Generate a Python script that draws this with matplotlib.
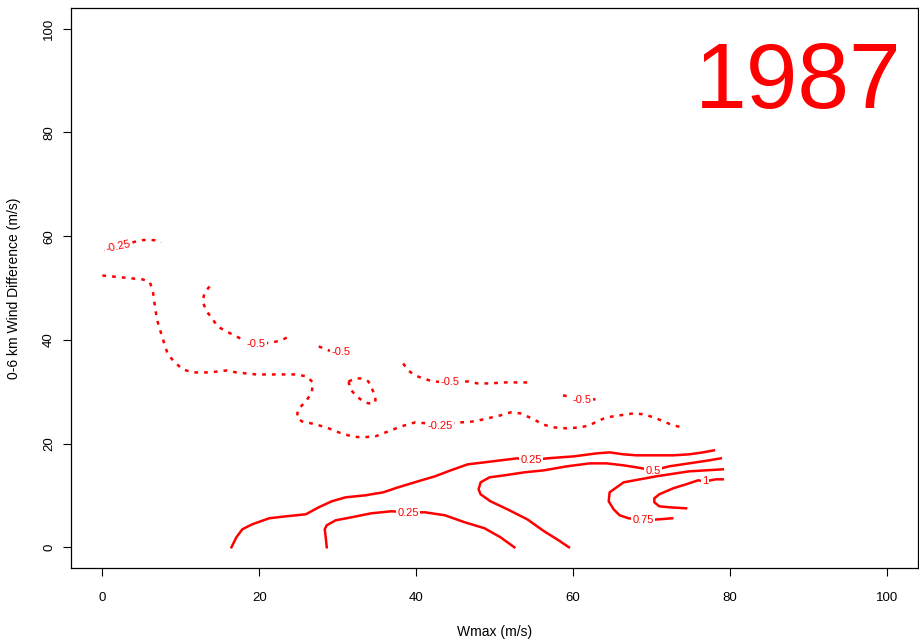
import matplotlib
matplotlib.use("Agg")
import matplotlib.pyplot as plt

RED = "#ff0000"

plt.rcParams.update({
    "font.family": ["Liberation Sans", "DejaVu Sans"],
    "axes.linewidth": 0.9,
})

# ---- contour lines (Wmax, wind difference) ----
# negative levels (dotted)
neg_a_x = [0.25, 2.0, 3.9, 4.8, 5.8, 6.7, 7.5]
neg_a_y = [57.2, 58.0, 58.8, 59.2, 59.3, 59.2, 58.8]

neg_b_x = [0.0, 2.66, 5.19, 6.08, 6.46, 6.71, 6.96, 7.34, 7.85, 8.35, 9.24, 10.25,
           11.52, 13.67, 15.82, 17.09, 19.62, 22.15, 24.68, 26.08, 26.84, 26.71,
           25.95, 24.94, 24.81, 25.44, 27.22, 28.86, 30.13, 31.77, 33.04, 34.81,
           36.46, 38.10, 39.87, 43.04, 45.70, 47.47, 49.11, 50.76, 52.03, 53.29,
           55.06, 56.08, 57.59, 59.24, 60.89, 62.15, 63.04, 64.30, 65.95, 67.72,
           69.11, 70.63, 71.52, 72.78, 73.92]
neg_b_y = [52.41, 52.02, 51.64, 51.06, 49.13, 46.44, 43.93, 42.00, 39.50, 37.19,
           35.65, 34.30, 33.72, 33.72, 34.10, 33.72, 33.33, 33.33, 33.33, 32.95,
           31.79, 29.87, 28.13, 26.59, 25.05, 24.28, 23.70, 22.93, 22.16, 21.39,
           21.19, 21.39, 22.35, 23.31, 24.08, 23.70, 24.08, 24.28, 24.86, 25.43,
           26.01, 25.82, 24.66, 23.70, 23.12, 22.93, 23.12, 23.51, 24.28, 25.05,
           25.43, 25.82, 25.63, 24.86, 24.28, 23.51, 23.12]

neg_c_x = [13.67, 13.04, 12.78, 13.29, 13.92, 14.68, 15.82, 17.09, 18.35, 19.62,
           21.65, 22.78, 23.54]
neg_c_y = [50.29, 49.13, 47.40, 45.47, 44.32, 42.58, 41.62, 40.66, 39.69, 39.11,
           39.50, 39.88, 40.46]

neg_d_x = [27.59, 28.86, 30.38, 32.03]
neg_d_y = [38.73, 37.96, 37.76, 37.76]

neg_e_x = [31.39, 32.28, 33.04, 33.92, 34.30, 34.81, 34.81, 33.92, 33.29, 32.41,
           31.65, 31.39]
neg_e_y = [31.98, 32.56, 32.56, 31.98, 30.83, 29.09, 27.94, 27.75, 28.13, 29.09,
           30.44, 31.98]

neg_f_x = [38.35, 38.99, 39.87, 40.89, 42.15, 44.30, 46.58, 47.85, 49.49, 51.27,
           52.91, 54.18]
neg_f_y = [35.45, 34.10, 33.14, 32.56, 31.98, 31.79, 31.98, 31.60, 31.60, 31.79,
           31.79, 31.79]

neg_g_x = [58.73, 59.49, 61.14, 63.04]
neg_g_y = [29.29, 29.09, 28.52, 28.52]

# positive levels (solid)
pos_025a_x = [16.46, 17.09, 17.85, 19.11, 21.27, 23.42, 25.95, 27.59, 29.24, 31.01,
              33.54, 35.82, 37.72, 40.25, 42.41, 44.43, 46.58, 48.73, 50.76, 52.91,
              54.68, 56.71, 60.13, 63.04, 64.68, 66.46, 68.10, 70.63, 72.78, 74.81,
              76.58, 77.97]
pos_025a_y = [0.0, 1.93, 3.47, 4.43, 5.59, 5.97, 6.36, 7.71, 8.86, 9.63, 10.02,
              10.60, 11.56, 12.72, 13.68, 14.84, 15.99, 16.38, 16.76, 17.15, 16.76,
              17.15, 17.53, 18.11, 18.30, 17.92, 17.73, 17.73, 17.73, 17.92, 18.30,
              18.69]

pos_025b_x = [28.61, 28.48, 28.35, 28.61, 29.75, 31.77, 34.30, 36.84, 38.99, 41.14,
              43.67, 46.20, 48.73, 50.76, 52.53]
pos_025b_y = [0.0, 1.93, 3.47, 4.24, 5.20, 5.78, 6.55, 6.94, 6.74, 6.74, 6.17,
              4.82, 3.66, 1.93, 0.0]

pos_05_x = [59.49, 57.97, 56.33, 54.18, 51.65, 49.49, 48.23, 47.97, 48.23, 49.37,
            51.27, 53.80, 56.33, 59.24, 62.15, 64.30, 66.46, 68.10, 70.25, 72.28,
            74.81, 77.34, 78.86]
pos_05_y = [0.0, 1.54, 3.08, 5.39, 7.32, 8.86, 10.21, 11.18, 12.52, 13.49, 13.87,
            14.45, 14.84, 15.61, 16.18, 16.18, 15.80, 15.41, 14.84, 15.61, 16.18,
            16.76, 17.15]

pos_075_x = [72.66, 71.01, 68.99, 67.09, 65.95, 65.19, 64.56, 64.68, 65.57, 66.46,
             70.63, 74.81, 79.11]
pos_075_y = [5.59, 5.39, 5.20, 5.59, 6.17, 7.32, 8.86, 10.60, 11.56, 12.52, 13.68,
             14.64, 15.03]

pos_1_x = [74.43, 72.28, 71.01, 70.38, 70.38, 71.01, 72.78, 74.43, 75.95, 76.84,
           78.23, 79.11]
pos_1_y = [7.51, 7.71, 7.90, 8.67, 9.44, 10.21, 11.37, 12.14, 12.91, 12.72, 13.10,
           13.10]

# contour labels: text, x, y, rotation
label_text = ["-0.25", "-0.5", "-0.5", "-0.5", "-0.5", "-0.25",
              "0.25", "0.25", "0.5", "0.75", "1"]
label_x = [1.96, 19.62, 30.38, 44.30, 61.14, 43.04, 54.68, 38.99, 70.25, 68.99, 76.84]
label_y = [58.0, 39.11, 37.57, 31.79, 28.32, 23.31, 16.76, 6.55, 14.64, 5.20, 12.72]
label_rot = [12, 0, 0, 0, 0, 0, 0, 0, 0, 0, 0]
label_z = [2.5, 2.5, 2.5, 2.5, 2.5, 2.5, 3.5, 3.5, 4.5, 5.5, 6.5]

ticks = [0, 20, 40, 60, 80, 100]

fig = plt.figure(figsize=(9.2, 6.42), dpi=100)
ax = fig.add_axes([71 / 920, 1 - 568 / 642, 847 / 920, 560 / 642])

dotted = dict(color=RED, lw=1.8, linestyle=(0, (1.5, 2.4)), zorder=2)
for xs, ys in [(neg_a_x, neg_a_y), (neg_b_x, neg_b_y), (neg_c_x, neg_c_y),
               (neg_d_x, neg_d_y), (neg_e_x, neg_e_y), (neg_f_x, neg_f_y),
               (neg_g_x, neg_g_y)]:
    ax.plot(xs, ys, **dotted)

ax.plot(pos_025a_x, pos_025a_y, color=RED, lw=1.8, zorder=3)
ax.plot(pos_025b_x, pos_025b_y, color=RED, lw=1.8, zorder=3)
ax.plot(pos_05_x, pos_05_y, color=RED, lw=1.8, zorder=4)
ax.plot(pos_075_x, pos_075_y, color=RED, lw=1.8, zorder=5)
ax.plot(pos_1_x, pos_1_y, color=RED, lw=1.8, zorder=6)

for t, x, y, r, z in zip(label_text, label_x, label_y, label_rot, label_z):
    ax.text(x, y, t, color=RED, fontsize=8, ha="center", va="center",
            rotation=r, zorder=z,
            bbox=dict(facecolor="white", edgecolor="none", pad=1.0))

ax.text(88.7, 84.8, "1987", color=RED, fontsize=67, ha="center", va="baseline")

ax.set_xlim(-4, 104)
ax.set_ylim(-4, 104)
ax.set_xticks(ticks)
ax.set_yticks(ticks)
ax.tick_params(direction="out", length=5.5, width=0.8, labelsize=9.5,
               colors="black")
ax.tick_params(axis="x", pad=12)
ax.tick_params(axis="y", pad=6)
for lab in ax.get_yticklabels():
    lab.set_rotation(90)
    lab.set_va("center")

ax.set_xlabel("Wmax (m/s)", fontsize=10)
ax.set_ylabel("0-6 km Wind Difference (m/s)", fontsize=10)
ax.xaxis.label.set_va("center")
ax.xaxis.set_label_coords(0.5, -(632 - 568) / 560)
ax.yaxis.label.set_va("center")
ax.yaxis.set_label_coords(-(71 - 14) / 847, 0.5)

fig.savefig("out.png", dpi=100)
